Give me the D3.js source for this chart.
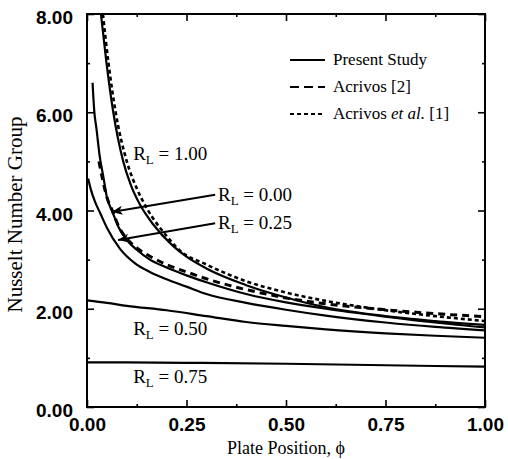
<!DOCTYPE html>
<html>
<head>
<meta charset="utf-8">
<script src="https://cdn.jsdelivr.net/npm/d3@7"></script>
<style>
  body { margin: 0; background: #fff; }
  svg { display: block; font-family: "Liberation Serif", "DejaVu Serif", serif; }
  .tick line { stroke: #000; stroke-width: 1.6; }
  .tick text { font-size: 19px; font-weight: bold; fill: #000; }
  .domain { display: none; }
</style>
</head>
<body>
<svg width="508" height="459"></svg>
<script>
// axis ticks
var xMajor = [0, 0.25, 0.5, 0.75, 1.0];
var xMinor = [0.125, 0.375, 0.625, 0.875];
var yMajor = [0, 2, 4, 6, 8];
var yMinor = [1, 3, 5, 7];

// present study, [phi, Nu]
var present000 = [[0.014,6.60],[0.018,6.05],[0.024,5.65],[0.032,5.10],[0.041,4.69],[0.05,4.27],[0.064,3.97],[0.08,3.65],[0.1,3.40],[0.125,3.20],[0.158,3.00],[0.2,2.84],[0.25,2.68],[0.3,2.54],[0.4,2.30],[0.5,2.13],[0.6,2.00],[0.75,1.84],[0.875,1.72],[1.0,1.62]];
var presentLow = [[0.003,4.65],[0.01,4.42],[0.02,4.18],[0.033,3.95],[0.05,3.65],[0.083,3.22],[0.12,2.93],[0.158,2.75],[0.2,2.60],[0.25,2.45],[0.3,2.30],[0.4,2.12],[0.5,1.98],[0.6,1.86],[0.75,1.72],[0.875,1.63],[1.0,1.56]];
var present100 = [[0.035,8.0],[0.049,7.0],[0.066,6.0],[0.091,5.0],[0.11,4.52],[0.133,4.12],[0.166,3.72],[0.216,3.28],[0.25,3.06],[0.3,2.82],[0.4,2.48],[0.5,2.23],[0.6,2.03],[0.75,1.85],[0.875,1.75],[1.0,1.67]];
var present050 = [[0.0,2.17],[0.05,2.12],[0.1,2.06],[0.2,1.97],[0.3,1.85],[0.4,1.73],[0.5,1.65],[0.6,1.58],[0.75,1.50],[0.875,1.45],[1.0,1.41]];
var present075 = [[0.0,0.91],[0.25,0.90],[0.5,0.88],[0.75,0.85],[1.0,0.82]];

// Acrivos [2] (long dash) and Acrivos et al. [1] (short dash)
var acrivos2 = [[0.03,5.0],[0.05,4.27],[0.064,3.99],[0.08,3.67],[0.1,3.43],[0.125,3.24],[0.158,3.07],[0.2,2.90],[0.25,2.75],[0.3,2.61],[0.36,2.47],[0.4,2.39],[0.5,2.22],[0.6,2.10],[0.75,1.98],[0.875,1.90],[1.0,1.84]];
var acrivos1 = [[0.04,8.0],[0.054,7.0],[0.072,6.0],[0.1,5.0],[0.125,4.45],[0.15,4.05],[0.2,3.48],[0.234,3.18],[0.3,2.90],[0.4,2.56],[0.5,2.33],[0.6,2.16],[0.75,1.97],[0.875,1.85],[1.0,1.75]];

// curve labels: text value, phi, Nu (baseline)
var labels = [
    {v: "1.00", x: 0.116, y: 5.03},
    {v: "0.00", x: 0.329, y: 4.20},
    {v: "0.25", x: 0.329, y: 3.63},
    {v: "0.50", x: 0.116, y: 1.47},
    {v: "0.75", x: 0.116, y: 0.49}
];
// arrows: from (x0,y0) to tip (x1,y1)
var arrows = [
    {x0: 0.322, y0: 4.32, x1: 0.062, y1: 3.97},
    {x0: 0.322, y0: 3.74, x1: 0.078, y1: 3.40}
];

var svg = d3.select("svg"),
    margin = {top: 14, right: 23, bottom: 52, left: 87},
    width = 508 - margin.left - margin.right,
    height = 459 - margin.top - margin.bottom;
var g = svg.append("g").attr("transform", "translate(" + margin.left + "," + margin.top + ")");

var x = d3.scaleLinear().domain([0, 1]).range([0, width]);
var y = d3.scaleLinear().domain([0, 8]).range([height, 0]);
var fmt = d3.format(".2f");

svg.append("defs").append("clipPath").attr("id", "clip")
    .append("rect").attr("width", width).attr("height", height);
svg.select("defs").append("marker")
    .attr("id", "arrow")
    .attr("viewBox", "0 -5 12 10")
    .attr("refX", 12).attr("refY", 0)
    .attr("markerWidth", 14).attr("markerHeight", 9)
    .attr("markerUnits", "userSpaceOnUse")
    .attr("orient", "auto")
    .append("path")
    .attr("d", "M0,-5L12,0L0,5L3,0Z")
    .attr("fill", "#000");

// ticks, inward, all four sides
g.append("g").attr("transform", "translate(0," + height + ")")
    .call(d3.axisBottom(x).tickValues(xMajor).tickSizeInner(-7).tickSizeOuter(0).tickPadding(11).tickFormat(fmt));
g.append("g").attr("transform", "translate(0," + height + ")")
    .call(d3.axisBottom(x).tickValues(xMinor).tickSizeInner(-3).tickSizeOuter(0).tickFormat(""));
g.append("g")
    .call(d3.axisTop(x).tickValues(xMajor).tickSizeInner(-7).tickSizeOuter(0).tickFormat(""));
g.append("g")
    .call(d3.axisTop(x).tickValues(xMinor).tickSizeInner(-3).tickSizeOuter(0).tickFormat(""));
g.append("g")
    .call(d3.axisLeft(y).tickValues(yMajor).tickSizeInner(-7).tickSizeOuter(0).tickPadding(14).tickFormat(fmt))
    .selectAll("text").attr("dy", "0.5em");
g.append("g")
    .call(d3.axisLeft(y).tickValues(yMinor).tickSizeInner(-3).tickSizeOuter(0).tickFormat(""));
g.append("g").attr("transform", "translate(" + width + ",0)")
    .call(d3.axisRight(y).tickValues(yMajor).tickSizeInner(-7).tickSizeOuter(0).tickFormat(""));
g.append("g").attr("transform", "translate(" + width + ",0)")
    .call(d3.axisRight(y).tickValues(yMinor).tickSizeInner(-3).tickSizeOuter(0).tickFormat(""));

g.append("rect")
    .attr("width", width).attr("height", height)
    .attr("fill", "none").attr("stroke", "#000").attr("stroke-width", 2);

var line = d3.line()
    .x(function(d) { return x(d[0]); })
    .y(function(d) { return y(d[1]); })
    .curve(d3.curveMonotoneX);

var curves = g.append("g").attr("clip-path", "url(#clip)");
[present000, presentLow, present100, present050, present075].forEach(function(c) {
    curves.append("path")
        .datum(c)
        .attr("fill", "none")
        .attr("stroke", "#000")
        .attr("stroke-width", 2.2)
        .attr("d", line);
});
curves.append("path")
    .datum(acrivos2)
    .attr("fill", "none")
    .attr("stroke", "#000")
    .attr("stroke-width", 3)
    .attr("stroke-dasharray", "7,5")
    .attr("d", line);
curves.append("path")
    .datum(acrivos1)
    .attr("fill", "none")
    .attr("stroke", "#000")
    .attr("stroke-width", 2.6)
    .attr("stroke-dasharray", "4,3")
    .attr("d", line);

// arrows
g.selectAll(".arrow")
    .data(arrows)
    .enter()
    .append("line")
    .attr("class", "arrow")
    .attr("x1", function(d) { return x(d.x0); })
    .attr("y1", function(d) { return y(d.y0); })
    .attr("x2", function(d) { return x(d.x1); })
    .attr("y2", function(d) { return y(d.y1); })
    .attr("stroke", "#000")
    .attr("stroke-width", 2)
    .attr("marker-end", "url(#arrow)");

// R_L labels
var lab = g.selectAll(".rl")
    .data(labels)
    .enter()
    .append("text")
    .attr("class", "rl")
    .attr("x", function(d) { return x(d.x); })
    .attr("y", function(d) { return y(d.y); })
    .style("font-size", "19px")
    .attr("fill", "#000");
lab.append("tspan").text("R");
lab.append("tspan").attr("dy", 4).style("font-size", "13px").text("L");
lab.append("tspan").attr("dy", -4).text(function(d) { return " = " + d.v; });

// legend
var legend = g.append("g").attr("class", "legend");
var legendItems = [
    {name: "Present Study", dash: null, w: 2},
    {name: "Acrivos [2]", dash: "9,5", w: 2},
    {name: "Acrivos ", em: "et al.", rest: " [1]", dash: "4,3", w: 2}
];
legendItems.forEach(function(d, i) {
    var ly = 46 + i * 27;
    legend.append("line")
        .attr("x1", 203).attr("x2", 238)
        .attr("y1", ly).attr("y2", ly)
        .attr("stroke", "#000")
        .attr("stroke-width", d.w)
        .attr("stroke-dasharray", d.dash);
    var t = legend.append("text")
        .attr("x", 246).attr("y", ly + 5)
        .style("font-size", "17px")
        .attr("fill", "#000");
    t.append("tspan").text(d.name);
    if (d.em) {
        t.append("tspan").style("font-style", "italic").text(d.em);
        t.append("tspan").text(d.rest);
    }
});

// axis titles
svg.append("text")
    .attr("x", margin.left + width / 2)
    .attr("y", 454)
    .attr("text-anchor", "middle")
    .style("font-size", "18px")
    .attr("fill", "#000")
    .text("Plate Position, \u03d5");
svg.append("text")
    .attr("transform", "translate(22," + (margin.top + height / 2 + 4) + ") rotate(-90)")
    .attr("text-anchor", "middle")
    .style("font-size", "21px")
    .attr("fill", "#000")
    .text("Nusselt Number Group");
</script>
</body>
</html>
